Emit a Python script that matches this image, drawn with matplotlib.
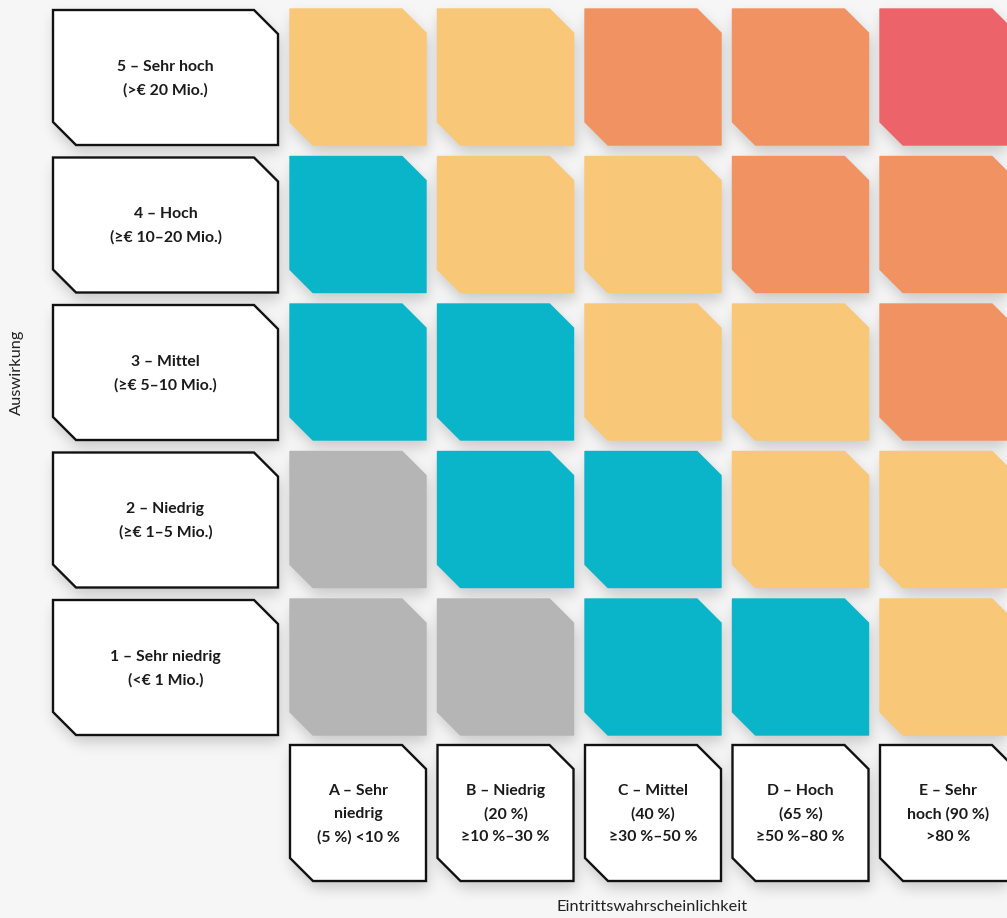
import numpy as np
import matplotlib.pyplot as plt
from matplotlib.patches import Polygon
from matplotlib.path import Path

# Daten der Risikomatrix
row_labels = ["5 – Sehr hoch\n(>€ 20 Mio.)",
              "4 – Hoch\n(≥€ 10–20 Mio.)",
              "3 – Mittel\n(≥€ 5–10 Mio.)",
              "2 – Niedrig\n(≥€ 1–5 Mio.)",
              "1 – Sehr niedrig\n(<€ 1 Mio.)"]
col_labels = ["A – Sehr\nniedrig\n(5 %) <10 %",
              "B – Niedrig\n(20 %)\n≥10 %–30 %",
              "C – Mittel\n(40 %)\n≥30 %–50 %",
              "D – Hoch\n(65 %)\n≥50 %–80 %",
              "E – Sehr\nhoch (90 %)\n>80 %"]
# Risikostufe je Zelle (Zeilen von 5 bis 1, Spalten A bis E)
risk = [[2, 2, 3, 3, 4],
        [1, 2, 2, 3, 3],
        [1, 1, 2, 2, 3],
        [0, 1, 1, 2, 2],
        [0, 0, 1, 1, 2]]
x_title = "Eintrittswahrscheinlichkeit"
y_title = "Auswirkung"

level_colors = {0: "#b5b5b5", 1: "#0ab5c9", 2: "#f9c778", 3: "#f09262", 4: "#ec6469"}
BG = "#f6f6f6"
FONT = ["Lato", "DejaVu Sans"]

# Layout in Pixeln
W, H = 1007, 918
PITCH = 147.5
CELL_X0, CELL_Y0 = 290, 9
CELL_W, CELL_H = 136, 136
LAB_X0, LAB_W = 53, 225
BOT_Y0 = 745
CUT_TR, CUT_BL = 24, 23


def shape(x0, y0, w, h):
    return [(x0, y0), (x0 + w - CUT_TR, y0), (x0 + w, y0 + CUT_TR),
            (x0 + w, y0 + h), (x0 + CUT_BL, y0 + h), (x0, y0 + h - CUT_BL)]


def blur(img, sigma):
    r = int(3 * sigma)
    k = np.exp(-0.5 * (np.arange(-r, r + 1) / sigma) ** 2)
    k /= k.sum()
    img = np.apply_along_axis(lambda v: np.convolve(v, k, mode="same"), 0, img)
    img = np.apply_along_axis(lambda v: np.convolve(v, k, mode="same"), 1, img)
    return img


shapes = []  # (punkte, text, farbe, umrandet)
for i, lab in enumerate(row_labels):
    y0 = CELL_Y0 + i * PITCH
    shapes.append((shape(LAB_X0, y0 + 1, LAB_W, CELL_H - 1), lab, "white", True))
    for j, lvl in enumerate(risk[i]):
        shapes.append((shape(CELL_X0 + j * PITCH, y0, CELL_W, CELL_H), None,
                       level_colors[lvl], False))
for j, lab in enumerate(col_labels):
    shapes.append((shape(CELL_X0 + j * PITCH, BOT_Y0, CELL_W, CELL_H), lab, "white", True))

# weicher Schatten unter allen Kacheln
yy, xx = np.mgrid[0:H, 0:W]
grid = np.column_stack([xx.ravel() + 0.5, yy.ravel() + 0.5])
mask = np.zeros(H * W)
for pts, _, _, _ in shapes:
    sp = [(x + 2, y + 7) for x, y in pts]
    mask = np.maximum(mask, Path(sp).contains_points(grid).astype(float))
mask = blur(mask.reshape(H, W), 7)
shadow_img = np.zeros((H, W, 4))
shadow_img[..., 3] = mask * 0.19

fig = plt.figure(figsize=(W / 100, H / 100), dpi=100, facecolor=BG)
ax = fig.add_axes([0, 0, 1, 1])
ax.set_xlim(0, W)
ax.set_ylim(H, 0)
ax.axis("off")
ax.set_facecolor(BG)
ax.imshow(shadow_img, extent=(0, W, H, 0), interpolation="bilinear", zorder=1)

for pts, text, color, outline in shapes:
    if outline:
        ax.add_patch(Polygon(pts, closed=True, facecolor="white", edgecolor="#111111",
                             linewidth=1.7, joinstyle="miter", zorder=3))
    else:
        ax.add_patch(Polygon(pts, closed=True, facecolor=color, edgecolor=color,
                             linewidth=1.0, joinstyle="round", zorder=3))
    if text:
        xs = [p[0] for p in pts]
        ys = [p[1] for p in pts]
        ax.text((min(xs) + max(xs)) / 2, (min(ys) + max(ys)) / 2 + 1, text,
                ha="center", va="center", fontsize=11.3, fontweight="bold",
                family=FONT, color="#1a1a1a", linespacing=1.8, zorder=4)

ax.text(CELL_X0 + 2 * PITCH + CELL_W / 2 - 1, 907, x_title, ha="center", va="center",
        fontsize=11.8, family=FONT, color="#222222")
ax.text(17, 372, y_title, ha="center", va="center", rotation=90,
        fontsize=11.8, family=FONT, color="#222222")

fig.savefig("out.png", dpi=100, facecolor=BG)
